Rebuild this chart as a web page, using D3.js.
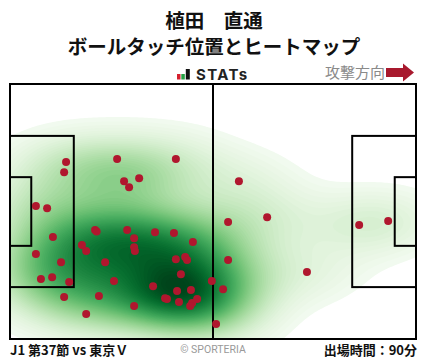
<!DOCTYPE html>
<html>
<head>
<meta charset="utf-8">
<script src="https://cdn.jsdelivr.net/npm/d3@7"></script>
<style>
  body { margin: 0; background: #fff; }
  svg text { font-family: "Noto Sans CJK JP", "Noto Sans", sans-serif; }
</style>
</head>
<body>
<svg id="chart" width="428" height="359"></svg>
<script>
// ball touches, pitch metres (x: own goal -> attacking goal, y: top -> bottom)
var touchX = [14.5, 14.0, 27.7, 42.9, 29.5, 33.4, 30.8, 6.7, 9.6, 11.1, 6.7, 13.2, 8.0, 10.9, 15.3,
  14.0, 19.7, 23.0, 26.9, 24.6, 18.6, 19.7, 22.0, 22.4, 30.3, 32.1, 32.1, 32.3, 37.5, 42.4, 47.3, 42.9,
  45.3, 45.8, 44.2, 37.0, 43.2, 46.8, 40.1, 40.6, 43.7, 48.4, 47.1, 46.6, 32.1, 52.2, 59.2, 66.5,
  56.4, 56.4, 55.1, 53.3, 76.8, 90.3, 97.8];
var touchY = [20.8, 23.5, 20.0, 20.0, 25.9, 25.1, 27.5, 32.5, 33.1, 40.8, 45.3, 47.5, 52.0, 51.5, 52.8,
  56.8, 61.3, 56.5, 52.5, 47.5, 42.9, 44.5, 38.9, 39.3, 38.9, 41.1, 43.5, 44.5, 39.5, 39.7, 42.1, 46.7,
  46.1, 46.9, 50.7, 53.9, 55.2, 54.9, 57.1, 57.3, 58.1, 57.3, 58.4, 59.2, 59.2, 52.5, 25.9, 35.5,
  36.8, 46.9, 54.7, 64.0, 50.1, 37.6, 36.5];

var titleName = "植田　直通";
var titleSub = "ボールタッチ位置とヒートマップ";
var matchLabel = "J1 第37節 vs 東京Ｖ";
var minutesLabel = "出場時間：90分";

var svg = d3.select("#chart");
var pitch = { left: 10, right: 416, top: 84, bottom: 339 };

var x = d3.scaleLinear().domain([0, 105]).range([pitch.left, pitch.right]);
var y = d3.scaleLinear().domain([0, 68]).range([pitch.top, pitch.bottom]);

// header
svg.append("text").attr("x", 214).attr("y", 28).attr("text-anchor", "middle")
  .attr("font-size", 19.5).attr("font-weight", 700).attr("fill", "#111").text(titleName);
svg.append("text").attr("x", 214).attr("y", 53.5).attr("text-anchor", "middle")
  .attr("font-size", 19.5).attr("font-weight", 700).attr("fill", "#111").text(titleSub);

// STATs logo
var logo = svg.append("g").attr("transform", "translate(177,68)");
logo.append("rect").attr("x", 0).attr("y", 6).attr("width", 3.5).attr("height", 5.5).attr("fill", "#d6202f");
logo.append("rect").attr("x", 4.3).attr("y", 6).attr("width", 3.5).attr("height", 5.5).attr("fill", "#25a244");
logo.append("rect").attr("x", 8.8).attr("y", 1).attr("width", 4).attr("height", 10.5).attr("fill", "#111");
svg.append("text").attr("x", 196).attr("y", 80).attr("font-size", 15).attr("font-weight", 700)
  .attr("letter-spacing", 1.4).attr("fill", "#222").style("font-family", "Inter, sans-serif").text("STATs");

// attack direction
svg.append("text").attr("x", 325).attr("y", 78).attr("font-size", 15)
  .attr("fill", "#8a8a8a").text("攻撃方向");
svg.append("path").attr("d", "M386,68 H403 V63.5 L414,72.5 L403,81.5 V77 H386 Z").attr("fill", "#a8192e");

// heat map: gaussian kde of the touches, lowest level holds 98% of the mass
var px = touchX.map(function (d) { return x(d); }), py = touchY.map(function (d) { return y(d); });
var bx = 42, by = 23, cell = 2;
var gx0 = d3.min(px) - 3 * bx, gx1 = d3.max(px) + 3 * bx;
var gy0 = d3.min(py) - 3 * by, gy1 = d3.max(py) + 3 * by;
var nx = Math.ceil((gx1 - gx0) / cell), ny = Math.ceil((gy1 - gy0) / cell);
var grid = new Float64Array(nx * ny);
for (var j = 0; j < ny; j++) {
  for (var i = 0; i < nx; i++) {
    var gx = gx0 + (i + 0.5) * cell, gy = gy0 + (j + 0.5) * cell, s = 0;
    for (var k = 0; k < px.length; k++) {
      var dx = (gx - px[k]) / bx, dy = (gy - py[k]) / by;
      s += Math.exp(-0.5 * (dx * dx + dy * dy));
    }
    grid[j * nx + i] = s;
  }
}
var sorted = Array.from(grid).sort(d3.ascending);
var total = d3.sum(sorted), acc = 0, lowLevel = sorted[0];
for (var q = 0; q < sorted.length; q++) {
  acc += sorted[q];
  if (acc / total >= 0.02) { lowLevel = sorted[q]; break; }
}
var maxD = sorted[sorted.length - 1];
var nLevels = 70;
var thresholds = d3.range(nLevels).map(function (i) { return lowLevel + (maxD - lowLevel) * i / nLevels; });
var contours = d3.contours().size([nx, ny]).thresholds(thresholds)(grid);
var color = function (i) { return d3.interpolateGreens(Math.pow((i + 1.5) / nLevels, 0.85)); };

svg.append("clipPath").attr("id", "pitch-clip").append("rect")
  .attr("x", pitch.left).attr("y", pitch.top)
  .attr("width", pitch.right - pitch.left).attr("height", pitch.bottom - pitch.top);

var proj = d3.geoIdentity().scale(cell).translate([gx0, gy0]);
svg.append("g").attr("clip-path", "url(#pitch-clip)")
  .selectAll("path").data(contours).enter().append("path")
  .attr("d", d3.geoPath(proj))
  .attr("fill", function (d, i) { return color(i); });

// pitch lines
var lines = svg.append("g").attr("fill", "none").attr("stroke", "#000").attr("stroke-width", 2);
lines.append("rect").attr("x", x(0)).attr("y", y(0)).attr("width", x(105) - x(0)).attr("height", y(68) - y(0));
lines.append("line").attr("x1", x(52.5)).attr("x2", x(52.5)).attr("y1", y(0)).attr("y2", y(68));
[[0, 16.5, 13.84, 54.16], [0, 5.5, 24.84, 43.16], [88.5, 105, 13.84, 54.16], [99.5, 105, 24.84, 43.16]]
  .forEach(function (b) {
    lines.append("rect").attr("x", x(b[0])).attr("y", y(b[2]))
      .attr("width", x(b[1]) - x(b[0])).attr("height", y(b[3]) - y(b[2]));
  });

// touches
svg.append("g").selectAll("circle").data(touchX).enter().append("circle")
  .attr("cx", function (d) { return x(d); })
  .attr("cy", function (d, i) { return y(touchY[i]); })
  .attr("r", 4).attr("fill", "#b0172e");

// footer
svg.append("text").attr("x", 10).attr("y", 355).attr("font-size", 13).attr("font-weight", 700)
  .attr("fill", "#111").text(matchLabel);
svg.append("text").attr("x", 213).attr("y", 353).attr("text-anchor", "middle").attr("font-size", 10.5)
  .attr("fill", "#999").style("font-family", "Roboto, sans-serif").text("© SPORTERIA");
svg.append("text").attr("x", 417).attr("y", 355).attr("text-anchor", "end").attr("font-size", 13)
  .attr("font-weight", 700).attr("fill", "#111").text(minutesLabel);
</script>
</body>
</html>
